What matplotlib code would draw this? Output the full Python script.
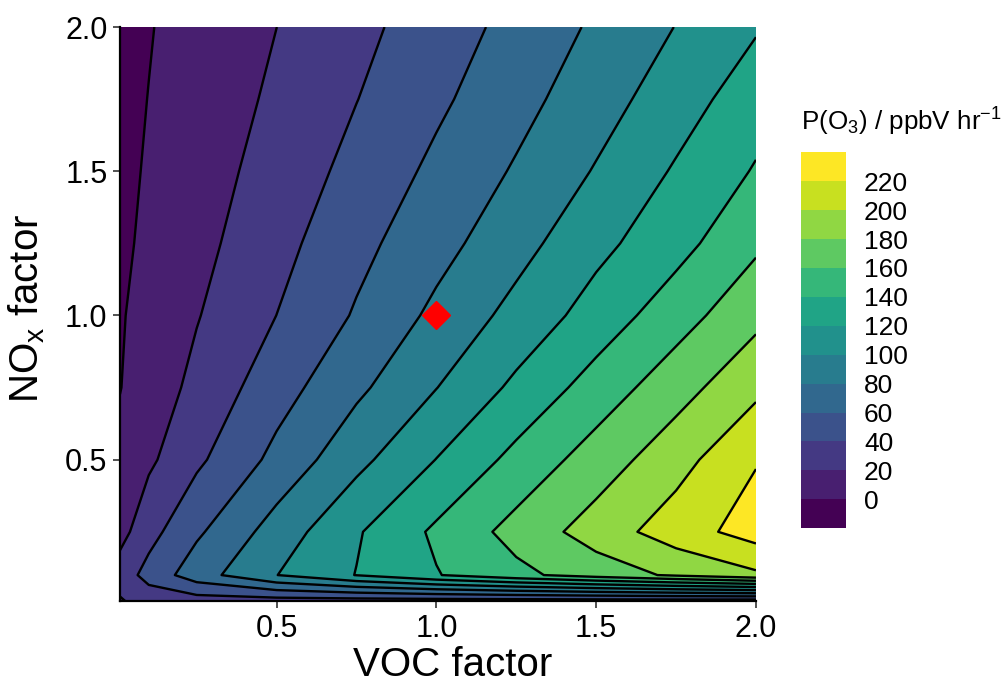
import numpy as np
import matplotlib
matplotlib.use('Agg')
import matplotlib.pyplot as plt

plt.rcParams['font.family'] = ['Liberation Sans', 'DejaVu Sans']
plt.rcParams['mathtext.fontset'] = 'custom'
plt.rcParams['mathtext.rm'] = 'Liberation Sans'
plt.rcParams['mathtext.it'] = 'Liberation Sans:italic'

# grid of the model runs
voc_factor = [0.01, 0.1, 0.25, 0.5, 0.75, 1.0, 1.25, 1.5, 1.75, 2.0]
nox_factor = [0.01, 0.1, 0.25, 0.5, 0.75, 1.0, 1.25, 1.5, 1.75, 2.0]

# P(O3) in ppbV/hr, one row per NOx factor (bottom to top), one column per VOC factor
po3_nox_001 = [18.0, 29.0, 30.5, 31.0, 31.0, 31.0, 31.0, 31.0, 31.0, 30.0]
po3_nox_010 = [29.4, 46.7, 71.1, 99.7, 120.6, 138.9, 155.0, 169.5, 183.2, 196.4]
po3_nox_025 = [13.0, 33.2, 56.7, 88.8, 117.9, 143.6, 167.0, 189.0, 210.3, 228.7]
po3_nox_050 = [5.0, 16.4, 36.2, 65.5, 94.3, 120.4, 145.9, 169.2, 192.3, 218.7]
po3_nox_075 = [-0.5, 9.4, 25.1, 51.6, 75.8, 99.6, 124.3, 148.4, 171.8, 195.3]
po3_nox_100 = [-1.5, 6.1, 18.9, 40.1, 62.0, 84.6, 106.4, 128.4, 151.2, 174.6]
po3_nox_125 = [-3.2, 3.3, 14.2, 33.5, 54.2, 73.0, 92.8, 114.4, 133.0, 156.4]
po3_nox_150 = [-4.1, 1.6, 11.1, 27.9, 46.1, 64.4, 82.1, 101.5, 122.2, 141.7]
po3_nox_175 = [-4.8, 0.3, 8.8, 23.3, 39.6, 56.2, 73.3, 91.3, 110.6, 131.0]
po3_nox_200 = [-5.5, -0.9, 6.9, 19.95, 34.6, 50.0, 66.1, 83.1, 100.5, 118.2]

levels = list(range(-20, 241, 20))
cbar_ticks = list(range(0, 221, 20))
base_voc = [1.0]
base_nox = [1.0]

po3 = np.array([po3_nox_001, po3_nox_010, po3_nox_025, po3_nox_050, po3_nox_075,
                po3_nox_100, po3_nox_125, po3_nox_150, po3_nox_175, po3_nox_200])
X, Y = np.meshgrid(voc_factor, nox_factor)

fig = plt.figure(figsize=(10.05, 6.83), dpi=100)
ax = fig.add_axes([0.1194, 0.12, 0.6328, 0.8404])

cols = plt.cm.viridis(np.linspace(0, 1, len(levels) - 1))
cf = ax.contourf(X, Y, po3, levels=levels, colors=cols)
ax.contour(X, Y, po3, levels=cbar_ticks, colors='black', linewidths=1.7)
ax.plot(base_voc, base_nox, marker='D', color='red', markersize=14, linestyle='none')

ax.set_xlim(0.01, 2.0)
ax.set_ylim(0.01, 2.0)
ax.set_xticks([0.5, 1.0, 1.5, 2.0])
ax.set_yticks([0.5, 1.0, 1.5, 2.0])
ax.set_xticklabels(['0.5', '1.0', '1.5', '2.0'])
ax.set_yticklabels(['0.5', '1.0', '1.5', '2.0'])
ax.tick_params(labelsize=22, length=5, width=1.2, color='#333333', pad=4)
for s in ['top', 'right']:
    ax.spines[s].set_visible(False)
for s in ['left', 'bottom']:
    ax.spines[s].set_linewidth(1.6)

fig.text(0.45, 0.027, 'VOC factor', fontsize=29, ha='center', va='center')
fig.text(0.027, 0.548, r'NO$_\mathregular{x}$ factor', fontsize=29, ha='center', va='center',
         rotation=90)

cax = fig.add_axes([0.797, 0.2266, 0.0448, 0.5505])
cb = fig.colorbar(cf, cax=cax, ticks=cbar_ticks)
cb.outline.set_visible(False)
cax.tick_params(length=0, labelsize=19, pad=13)
fig.text(0.797, 0.822, r'P(O$_3$) / ppbV hr$^{-1}$', fontsize=18.7, ha='left', va='center')

fig.savefig('out.png', dpi=100)
